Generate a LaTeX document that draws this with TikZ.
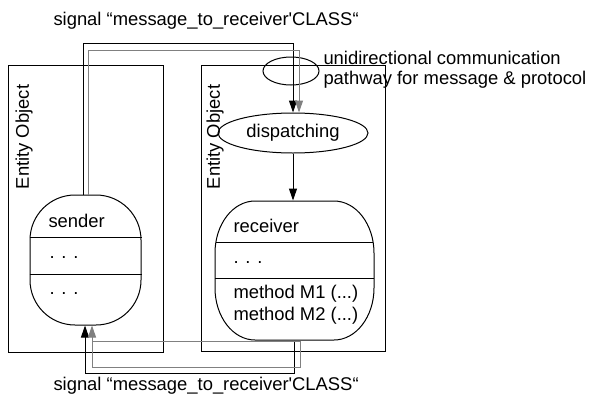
\documentclass[tikz,border=0pt]{standalone}
\usepackage{fontspec}
\setmainfont{Liberation Sans}
\usetikzlibrary{arrows.meta,shapes.geometric}
\definecolor{linegray}{RGB}{128,128,128}
\begin{document}
\begin{tikzpicture}[x=1pt,y=-1pt,
  every node/.style={font=\fontsize{18.4}{22}\selectfont},
  every path/.style={line width=1pt},
  boxstyle/.style={draw, inner sep=0pt, anchor=north west},
  classbox/.style={draw, inner sep=0pt},
  txt/.style={anchor=base west, inner sep=0pt},
  tip/.style={-{Triangle[length=12pt,width=8pt]}},
  grayline/.style={draw=linegray, -{Triangle[length=12pt,width=8pt,fill=linegray]}}
]
\useasboundingbox (0,0) rectangle (589,394);
\fill[white] (0,0) rectangle (589,394);

% entity boxes
\node[boxstyle, minimum width=155pt, minimum height=287pt] (lbox) at (8,65) {};
\node[boxstyle, minimum width=184pt, minimum height=286pt] (rbox) at (201,65) {};
\node[rotate=90, inner sep=0pt] (lent) at (24,137) {Entity Object};
\node[rotate=90, inner sep=0pt] (rent) at (215,137) {Entity Object};

% sender
\node[classbox, rounded corners=45pt, minimum width=111pt, minimum height=130pt] (sender) at (85.5,260) {};
\draw (sender.west |- 0,237) -- (sender.east |- 0,237);
\draw (sender.west |- 0,274) -- (sender.east |- 0,274);
\node[txt] (stxt) at (48,227) {sender};
\node[txt] (sd1) at (49,258) {. . .};
\node[txt] (sd2) at (49,294) {. . .};

% receiver (outline with elliptical corners)
\node[inner sep=0pt, minimum width=159pt, minimum height=139pt] (receiver) at (294.5,270.5) {};
\draw (215,253) .. controls (215,224.3) and (232.9,201) .. (255,201)
  -- (334,201) .. controls (356.1,201) and (374,224.3) .. (374,253)
  -- (374,288) .. controls (374,316.7) and (356.1,340) .. (334,340)
  -- (255,340) .. controls (232.9,340) and (215,316.7) .. (215,288) -- cycle;
\draw (216,242) -- (373,242);
\draw (215,278) -- (374,278);
\node[txt] (rtxt) at (233,232) {receiver};
\node[txt] (rd1) at (233,263) {. . .};
\node[txt] (rm1) at (233,298) {method M1 (...)};
\node[txt] (rm2) at (233,320) {method M2 (...)};

% dispatching and pathway
\node[draw, ellipse, minimum width=150pt, minimum height=40pt, inner sep=0pt] (dispatching) at (293,133) {dispatching};
\node[draw, ellipse, minimum width=56pt, minimum height=28pt, inner sep=0pt] (pathway) at (291,71) {};
\node[txt] (u1) at (323,64) {unidirectional communication};
\node[txt] (u2) at (323,84) {pathway for message \& protocol};

% labels
\node[txt] (toplabel) at (53,25) {signal “message\_to\_receiver\textquotesingle CLASS“};
\node[txt] (botlabel) at (53,390) {signal “message\_to\_receiver\textquotesingle CLASS“};

% top connectors
\coordinate (tb) at (293,43);
\coordinate (tg) at (299,50);
\draw[tip] ([xshift=-2.5pt]sender.north) |- (tb) -- (dispatching.north);
\draw[grayline] ([xshift=3pt]sender.north) |- (tg) -- ([xshift=6pt]dispatching.north);

% dispatching -> receiver
\draw[tip] (dispatching.south) -- ([xshift=-1.5pt]receiver.north);

% bottom connectors
\coordinate (bb) at (85,373);
\draw[tip] ([xshift=-0.5pt]receiver.south) |- (bb) -- ([xshift=-0.5pt]sender.south);
\coordinate (gA) at (92,341);
\coordinate (gB) at (300,341);
\coordinate (gC) at (300,367);
\coordinate (gD) at (92,367);
\draw[grayline] (gA) -- (gB) -- (gC) -- (gD) -- ([xshift=6.5pt]sender.south);
\end{tikzpicture}
\end{document}
